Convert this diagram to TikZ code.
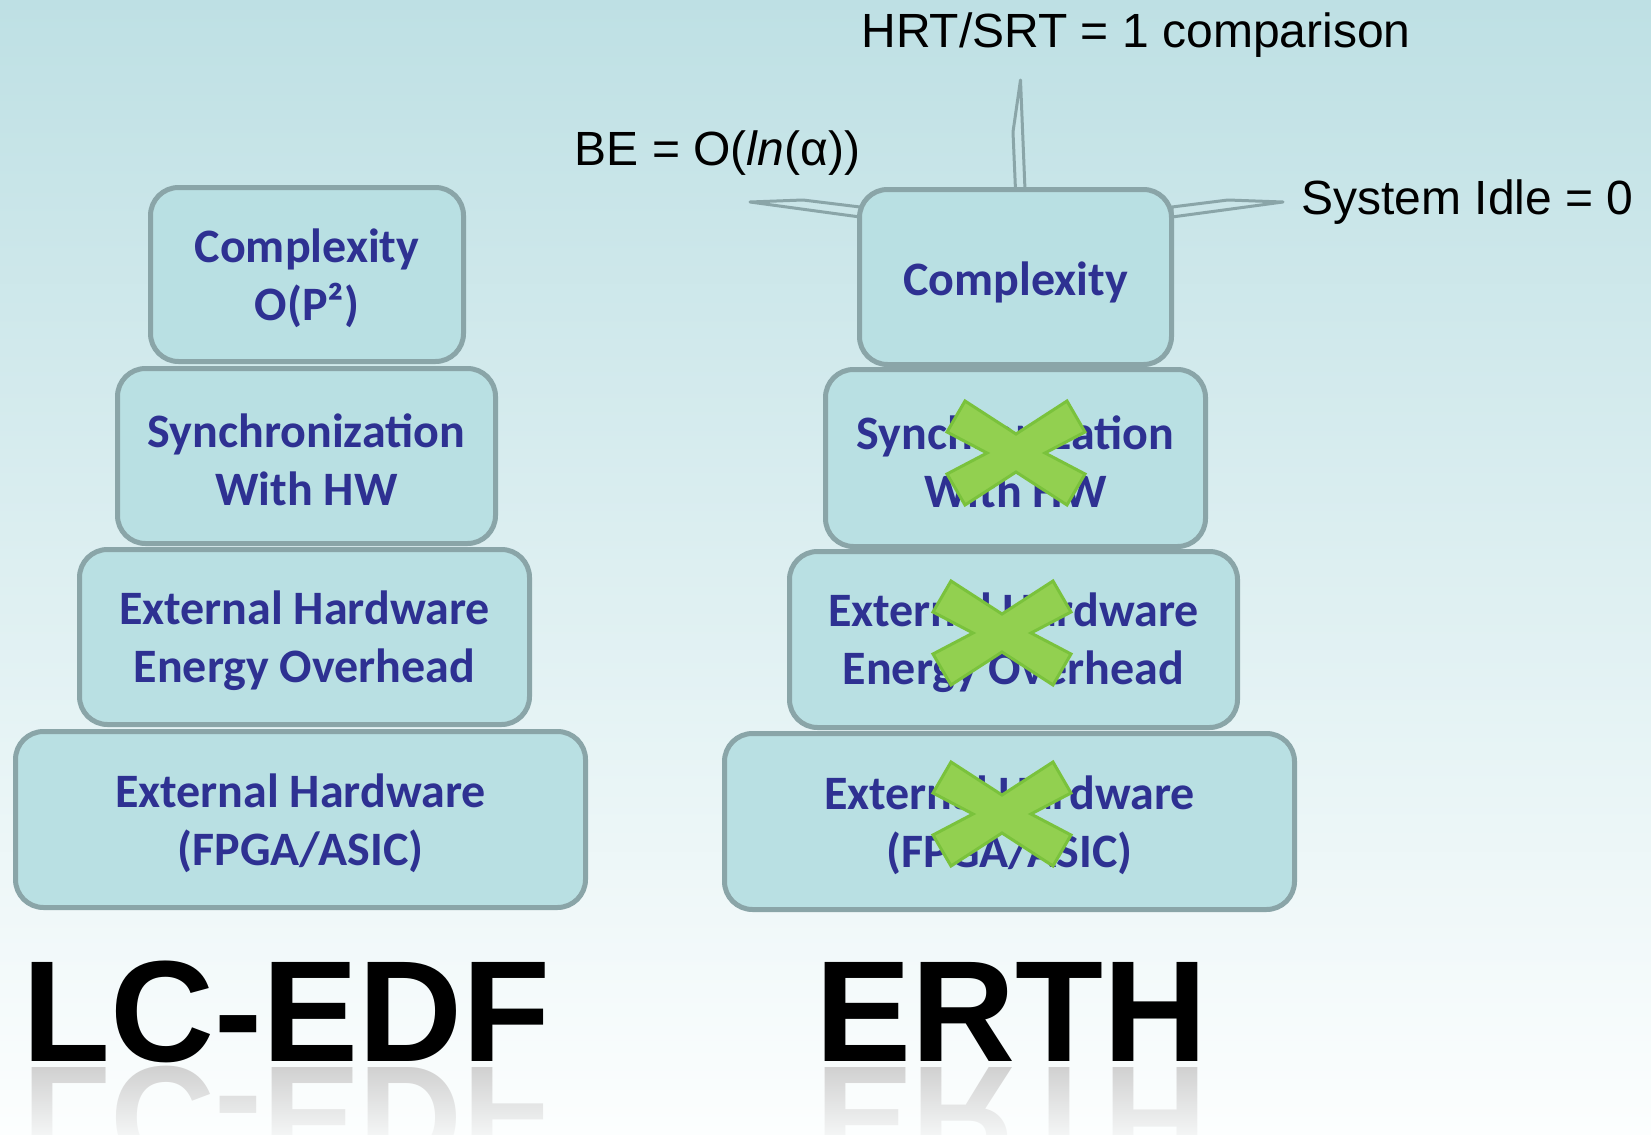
\documentclass[tikz,border=0pt]{standalone}
\usepackage{fontspec}
\setmainfont{Liberation Sans}
\newfontfamily\boxfont{Carlito}
\usetikzlibrary{fadings}
\definecolor{bgtop}{RGB}{190,224,228}
\definecolor{bgbot}{RGB}{252,254,254}
\definecolor{boxfill}{RGB}{185,224,227}
\definecolor{boxline}{RGB}{138,165,168}
\definecolor{navytext}{RGB}{46,49,146}
\definecolor{xgreen}{RGB}{146,208,80}
\definecolor{xedge}{RGB}{122,194,60}
\definecolor{spikefill}{RGB}{202,229,232}
\begin{document}
\begin{tikzpicture}[x=0.5pt,y=-0.5pt,
  stackbox/.style={draw=boxline, line width=2.5pt, fill=boxfill, rounded corners=14pt,
    inner sep=0pt},
  stacktext/.style={inner sep=0pt, align=center, text=navytext, yshift=-1.8pt,
    font=\boxfont\bfseries\fontsize{24}{29}\selectfont},
  lbl/.style={font=\fontsize{24}{28}\selectfont, inner sep=0pt, anchor=base west},
  titletext/.style={font=\bfseries\fontsize{72}{80}\selectfont, inner sep=0pt, anchor=base},
  spike/.style={draw=boxline, line width=1.5pt, fill=spikefill, line join=round},
  xcross/.pic={\path[fill=xgreen, draw=xedge, line width=1.5pt, line join=miter]
    (-69,-21) -- (-51,-52) -- (0,-19) -- (51,-52) -- (69,-21) -- (29,0) --
    (69,21) -- (51,52) -- (0,19) -- (-51,52) -- (-69,21) -- (-29,0) -- cycle;}
]
\useasboundingbox (0,0) rectangle (1651,1135);
\shade[top color=bgtop, bottom color=bgbot] (0,0) rectangle (1651,1135);

% callout labels
\node[lbl] (hrt) at (861,47) {HRT/SRT = 1 comparison};
\node[lbl] (be) at (574.5,165) {BE = O(\textit{ln}(α))};
\node[lbl] (idle) at (1301,214) {System Idle = 0};

% callout pointers
\coordinate (ptop) at (1020.5,80);
\coordinate (pleft) at (750,202);
\coordinate (pright) at (1283,202);
\draw[spike] (1015.5,190) -- (1013,132) -- (ptop) -- (1025,190) -- cycle;
\draw[spike] (860,207) -- (803,200) -- (pleft) -- (860,217) -- cycle;
\draw[spike] (1172,207) -- (1228,200) -- (pright) -- (1172,217) -- cycle;

% left stack
\node[stackbox, minimum width=156.5pt, minimum height=87pt] (l1) at (307,274.5) {};
\node[stacktext] (l1t) at (l1.center) {Complexity\\O(P²)};
\node[stackbox, minimum width=189pt, minimum height=87.5pt] (l2) at (306.5,456) {};
\node[stacktext] (l2t) at (l2.center) {Synchronization\\With HW};
\node[stackbox, minimum width=225pt, minimum height=87.5pt] (l3) at (304.5,637) {};
\node[stacktext] (l3t) at (l3.center) {External Hardware\\Energy Overhead};
\node[stackbox, minimum width=285pt, minimum height=88pt] (l4) at (300.5,819.5) {};
\node[stacktext] (l4t) at (l4.center) {External Hardware\\(FPGA/ASIC)};

% right stack
\node[stackbox, minimum width=156pt, minimum height=87.5pt] (r1) at (1015.5,277) {};
\node[stacktext, yshift=-0.8pt] (r1t) at (r1.center) {Complexity};
\node[stackbox, minimum width=190pt, minimum height=88.5pt] (r2) at (1015.5,458) {};
\node[stacktext] (r2t) at (r2.center) {Synchronization\\With HW};
\node[stackbox, minimum width=224pt, minimum height=88pt] (r3) at (1013.5,639.5) {};
\node[stacktext] (r3t) at (r3.center) {External Hardware\\Energy Overhead};
\node[stackbox, minimum width=285pt, minimum height=88pt] (r4) at (1009.5,821.5) {};
\node[stacktext] (r4t) at (r4.center) {External Hardware\\(FPGA/ASIC)};

% crosses
\pic at (1016,453) {xcross};
\pic at (1002,633) {xcross};
\pic at (1002,814) {xcross};

% titles and reflections
\begin{scope}[shift={(286.5,1067)}, yscale=-1]
  \node[titletext, transform shape, text=black!19] (lcr) at (0,0) {LC-EDF};
\end{scope}
\begin{scope}[shift={(1011,1067)}, yscale=-1]
  \node[titletext, transform shape, text=black!19] (err) at (0,0) {ERTH};
\end{scope}
\fill[bgbot, path fading=north] (0,1063) rectangle (1651,1150);
\node[titletext, text=black] (lc) at (286.5,1061) {LC-EDF};
\node[titletext, text=black] (er) at (1011,1061) {ERTH};
\end{tikzpicture}
\end{document}
